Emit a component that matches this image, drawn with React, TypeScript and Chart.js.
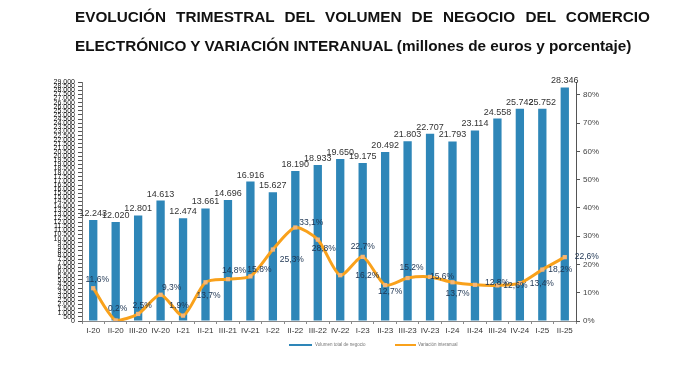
import React, { useEffect, useRef } from 'react';
import { Chart, registerables } from 'chart.js';

Chart.register(...registerables);

const categories = [
  'I-20', 'II-20', 'III-20', 'IV-20',
  'I-21', 'II-21', 'III-21', 'IV-21',
  'I-22', 'II-22', 'III-22', 'IV-22',
  'I-23', 'II-23', 'III-23', 'IV-23',
  'I-24', 'II-24', 'III-24', 'IV-24',
  'I-25', 'II-25',
];

const volume = [
  12243, 12020, 12801, 14613,
  12474, 13661, 14696, 16916,
  15627, 18190, 18933, 19650,
  19175, 20492, 21803, 22707,
  21793, 23114, 24558, 25742,
  25752, 28346,
];

const variation = [
  11.6, 0.2, 2.5, 9.3,
  1.9, 13.7, 14.8, 15.8,
  25.3, 33.1, 28.8, 16.2,
  22.7, 12.7, 15.2, 15.6,
  13.7, 12.8, 12.6, 13.4,
  18.2, 22.6,
];

const seriesNames = ['Volumen total de negocio', 'Variación interanual'];
const titleLines = [
  'EVOLUCIÓN TRIMESTRAL DEL VOLUMEN DE NEGOCIO DEL COMERCIO',
  'ELECTRÓNICO Y VARIACIÓN INTERANUAL (millones de euros y porcentaje)',
];

// label placement (style only): offset of the percentage label centre from its point
const variationLabelOffsets: [number, number][] = [
  [4, -9], [2, -12], [4, -8], [11, -7],
  [-4, -10], [3, 13], [6, -9], [9, -7],
  [19, 10], [16, -5], [6, 9], [27, 0],
  [0, -10], [5, 7], [4, -10], [12, 0],
  [5, 11], [22, -2], [18, 0], [22, 1],
  [18, 0], [22, 0],
];

const BAR_COLOR = '#2E86B8';
const LINE_COLOR = '#F9A11B';
const POINT_COLOR = '#F6B675';
const FONT = "'Liberation Sans', Arial, sans-serif";

const fmtThousands = (v: number) =>
  Math.round(v).toString().replace(/\B(?=(\d{3})+(?!\d))/g, '.');
const fmtPct = (v: number) => v.toFixed(1).replace('.', ',') + '%';

const labelsPlugin = {
  id: 'customLabels',
  afterDatasetsDraw(chart: any) {
    const ctx = chart.ctx;
    ctx.save();
    // bar value labels
    const barMeta = chart.getDatasetMeta(0);
    ctx.font = `9px ${FONT}`;
    ctx.fillStyle = '#333333';
    ctx.textAlign = 'center';
    ctx.textBaseline = 'bottom';
    barMeta.data.forEach((el: any, i: number) => {
      ctx.fillText(fmtThousands(volume[i]), el.x, el.y - 2);
    });
    // line value labels
    const lineMeta = chart.getDatasetMeta(1);
    ctx.font = `8.5px ${FONT}`;
    ctx.fillStyle = '#1E3552';
    ctx.textBaseline = 'middle';
    lineMeta.data.forEach((el: any, i: number) => {
      const [dx, dy] = variationLabelOffsets[i] || [0, -10];
      ctx.fillText(fmtPct(variation[i]), el.x + dx, el.y + dy);
    });
    ctx.restore();
  },
  afterDraw(chart: any) {
    // legend
    const ctx = chart.ctx;
    ctx.save();
    ctx.lineWidth = 2;
    ctx.strokeStyle = BAR_COLOR;
    ctx.beginPath();
    ctx.moveTo(289, 345);
    ctx.lineTo(312, 345);
    ctx.stroke();
    ctx.strokeStyle = LINE_COLOR;
    ctx.beginPath();
    ctx.moveTo(395, 345);
    ctx.lineTo(416, 345);
    ctx.stroke();
    ctx.font = `4.5px ${FONT}`;
    ctx.fillStyle = '#777777';
    ctx.textAlign = 'left';
    ctx.textBaseline = 'middle';
    ctx.fillText(seriesNames[0], 315, 345);
    ctx.fillText(seriesNames[1], 418, 345);
    ctx.restore();
  },
};

export default function App() {
  const canvasRef = useRef<HTMLCanvasElement | null>(null);

  useEffect(() => {
    document.body.style.margin = '0';
    document.body.style.background = '#ffffff';
    const canvas = canvasRef.current;
    if (!canvas) return;
    const chart = new Chart(canvas, {
      type: 'bar',
      data: {
        labels: categories,
        datasets: [
          {
            type: 'bar',
            label: seriesNames[0],
            data: volume,
            backgroundColor: BAR_COLOR,
            borderWidth: 0,
            barPercentage: 0.37,
            categoryPercentage: 1,
            yAxisID: 'y',
            order: 1,
          },
          {
            type: 'line',
            label: seriesNames[1],
            data: variation,
            borderColor: LINE_COLOR,
            borderWidth: 3,
            tension: 0.25,
            pointStyle: 'rect',
            pointRadius: 3,
            pointBackgroundColor: POINT_COLOR,
            pointBorderColor: POINT_COLOR,
            pointBorderWidth: 0,
            yAxisID: 'y1',
            order: 0,
          } as any,
        ],
      },
      options: {
        responsive: false,
        animation: false,
        devicePixelRatio: 1,
        layout: { padding: { top: 82, left: 0, right: 0, bottom: 0 } },
        plugins: {
          legend: { display: false },
          tooltip: { enabled: false },
          title: { display: false },
        },
        scales: {
          x: {
            grid: {
              display: true,
              drawOnChartArea: false,
              drawTicks: true,
              tickLength: 3,
              color: '#8a8a8a',
            },
            border: { display: true, color: '#8a8a8a', width: 1 },
            ticks: {
              font: { family: FONT, size: 8 },
              color: '#333333',
              padding: 2,
              autoSkip: false,
              maxRotation: 0,
              minRotation: 0,
            },
            afterFit: (s: any) => { s.height = 44; },
          },
          y: {
            position: 'left',
            min: 0,
            max: 29000,
            bounds: 'data',
            grid: {
              display: true,
              drawOnChartArea: false,
              drawTicks: true,
              tickLength: 4,
              color: '#555555',
            },
            border: { display: true, color: '#777777', width: 1 },
            ticks: {
              stepSize: 500,
              autoSkip: false,
              padding: 3,
              font: { family: FONT, size: 7 },
              color: '#111111',
              callback: (v: any) => fmtThousands(Number(v)),
            },
            afterFit: (s: any) => { s.width = 82; },
          },
          y1: {
            position: 'right',
            min: 0,
            max: 84.6,
            bounds: 'data',
            grid: {
              display: true,
              drawOnChartArea: false,
              drawTicks: true,
              tickLength: 4,
              color: '#555555',
            },
            border: { display: true, color: '#555555', width: 1 },
            ticks: {
              stepSize: 10,
              includeBounds: false,
              autoSkip: false,
              padding: 3,
              font: { family: FONT, size: 8 },
              color: '#444444',
              callback: (v: any) => `${v}%`,
            },
            afterFit: (s: any) => { s.width = 124; },
          },
        },
      } as any,
      plugins: [labelsPlugin],
    });
    return () => chart.destroy();
  }, []);

  const titleStyle: React.CSSProperties = {
    fontFamily: FONT,
    fontWeight: 'bold',
    fontSize: '15.3px',
    lineHeight: '29px',
    color: '#111111',
    whiteSpace: 'nowrap',
  };

  return (
    <div style={{ position: 'relative', width: 700, height: 365, background: '#fff' }}>
      <canvas ref={canvasRef} width={700} height={365} style={{ position: 'absolute', left: 0, top: 0 }} />
      <div style={{ position: 'absolute', left: 75, top: 1.5, width: 575 }}>
        <div style={{ ...titleStyle, textAlign: 'justify', textAlignLast: 'justify' as any, whiteSpace: 'normal' }}>
          {titleLines[0]}
        </div>
        <div style={titleStyle}>{titleLines[1]}</div>
      </div>
    </div>
  );
}
